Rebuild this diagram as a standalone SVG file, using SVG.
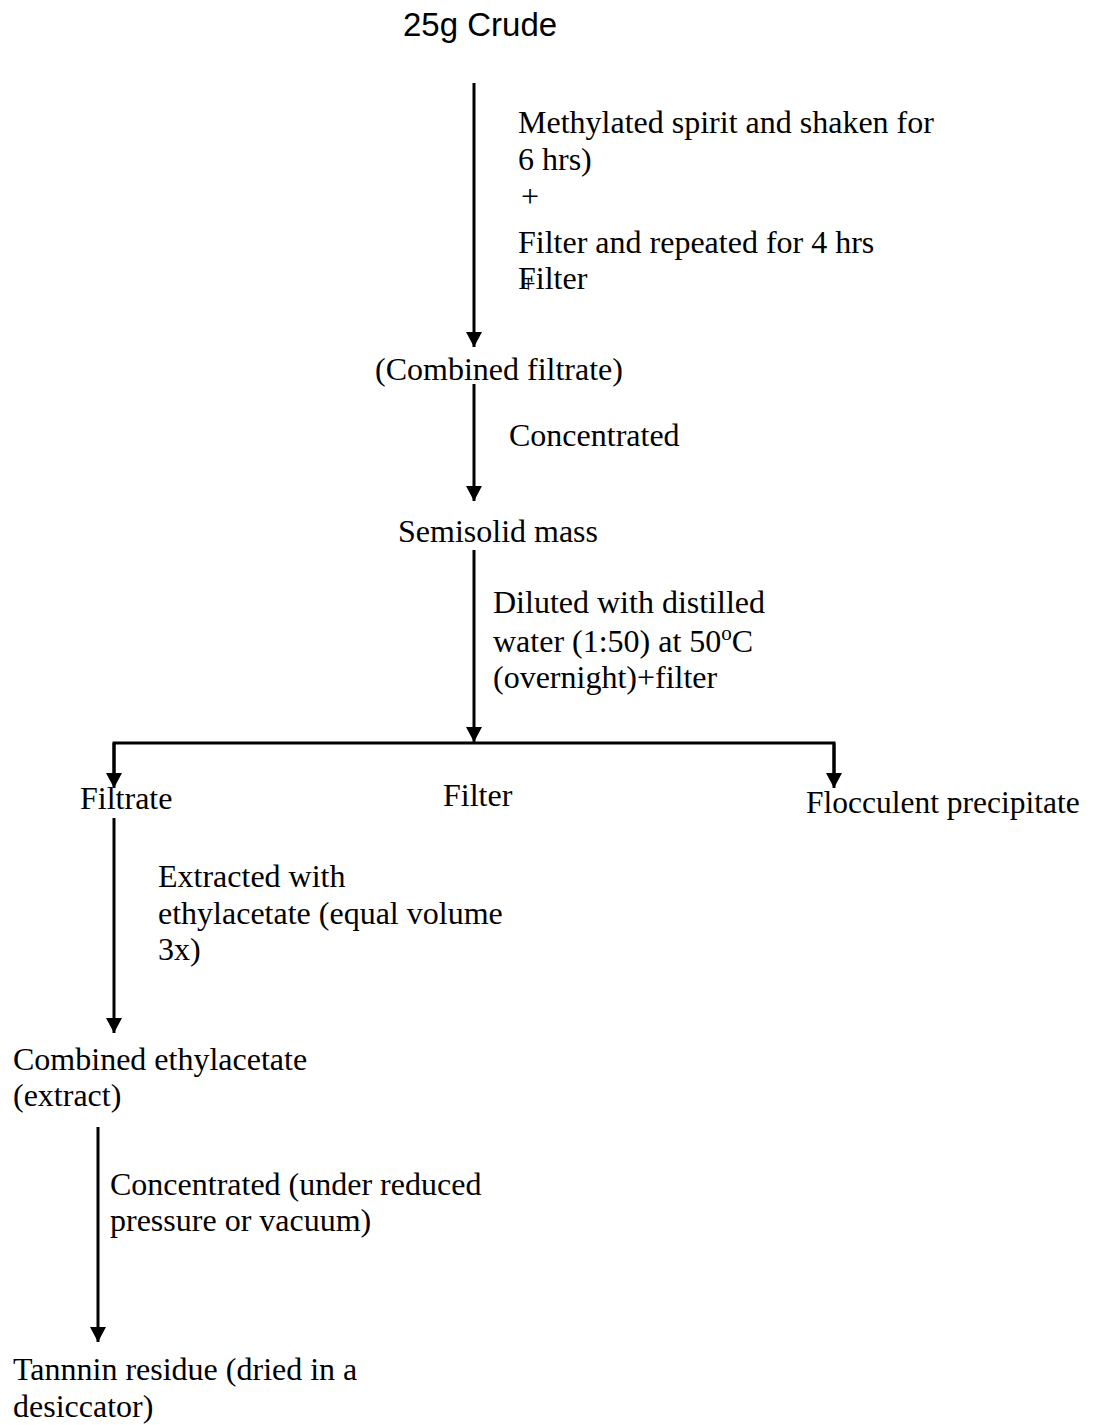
<svg xmlns="http://www.w3.org/2000/svg" width="1099" height="1425" viewBox="0 0 1099 1425">
  <style>
    .t { font-family: "Liberation Serif", "Times New Roman", serif; font-size: 32px; fill: #000; }
    .title { font-family: "Liberation Sans", Arial, sans-serif; font-size: 33px; fill: #000; }
    .ln { stroke: #000; stroke-width: 3; fill: none; }
    .arr { stroke: #000; stroke-width: 3; fill: none; marker-end: url(#head); }
  </style>
  <defs>
    <marker id="head" markerUnits="userSpaceOnUse" markerWidth="15" markerHeight="16" viewBox="0 0 15 16" refX="15" refY="8" orient="auto">
      <path d="M0,0 L15,8 L0,16 z" fill="#000"/>
    </marker>
  </defs>

  <rect width="1099" height="1425" fill="#fff"/>

  <!-- connectors -->
  <g id="connectors">
    <line class="arr" x1="474" y1="83" x2="474" y2="347"/>
    <line class="arr" x1="474" y1="384" x2="474" y2="501"/>
    <line class="arr" x1="474" y1="550" x2="474" y2="742"/>
    <polyline class="ln" points="114,775 114,743 834,743 834,775"/>
    <line class="arr" x1="114" y1="743" x2="114" y2="788"/>
    <line class="arr" x1="834" y1="743" x2="834" y2="788"/>
    <line class="arr" x1="114" y1="818" x2="114" y2="1033"/>
    <line class="arr" x1="98" y1="1127" x2="98" y2="1342"/>
  </g>

  <!-- step labels on connectors -->
  <g id="label-extraction">
    <text class="t" x="518" y="133">Methylated spirit and shaken for</text>
    <text class="t" x="518" y="170">6 hrs)</text>
    <text class="t" x="521" y="207">+</text>
    <text class="t" x="518" y="253">Filter and repeated for 4 hrs</text>
    <text class="t" x="518" y="289">Filter</text>
    <text class="t" x="521" y="292" style="font-size:26px">+</text>
  </g>
  <g id="label-concentrate">
    <text class="t" x="509" y="446">Concentrated</text>
  </g>
  <g id="label-dilute">
    <text class="t" x="493" y="613">Diluted with distilled</text>
    <text class="t" x="493" y="652">water (1:50) at 50<tspan dy="-12" style="font-size:21px">o</tspan><tspan dy="12">C</tspan></text>
    <text class="t" x="493" y="688">(overnight)+filter</text>
  </g>
  <g id="label-ethylacetate">
    <text class="t" x="158" y="887">Extracted with</text>
    <text class="t" x="158" y="924">ethylacetate (equal volume</text>
    <text class="t" x="158" y="960">3x)</text>
  </g>
  <g id="label-vacuum">
    <text class="t" x="110" y="1195">Concentrated (under reduced</text>
    <text class="t" x="110" y="1231">pressure or vacuum)</text>
  </g>

  <!-- nodes -->
  <g id="node-crude">
    <text class="title" x="403" y="36">25g Crude</text>
  </g>
  <g id="node-combined-filtrate">
    <text class="t" x="375" y="380">(Combined filtrate)</text>
  </g>
  <g id="node-semisolid">
    <text class="t" x="398" y="542">Semisolid mass</text>
  </g>
  <g id="node-filtrate">
    <text class="t" x="80" y="809">Filtrate</text>
  </g>
  <g id="node-filter">
    <text class="t" x="443" y="806">Filter</text>
  </g>
  <g id="node-precipitate">
    <text class="t" x="806" y="813" style="font-size:31.5px">Flocculent precipitate</text>
  </g>
  <g id="node-combined-ethylacetate">
    <text class="t" x="13" y="1070">Combined ethylacetate</text>
    <text class="t" x="13" y="1106">(extract)</text>
  </g>
  <g id="node-tannin">
    <text class="t" x="13" y="1380">Tannnin residue (dried in a</text>
    <text class="t" x="13" y="1417">desiccator)</text>
  </g>
</svg>
